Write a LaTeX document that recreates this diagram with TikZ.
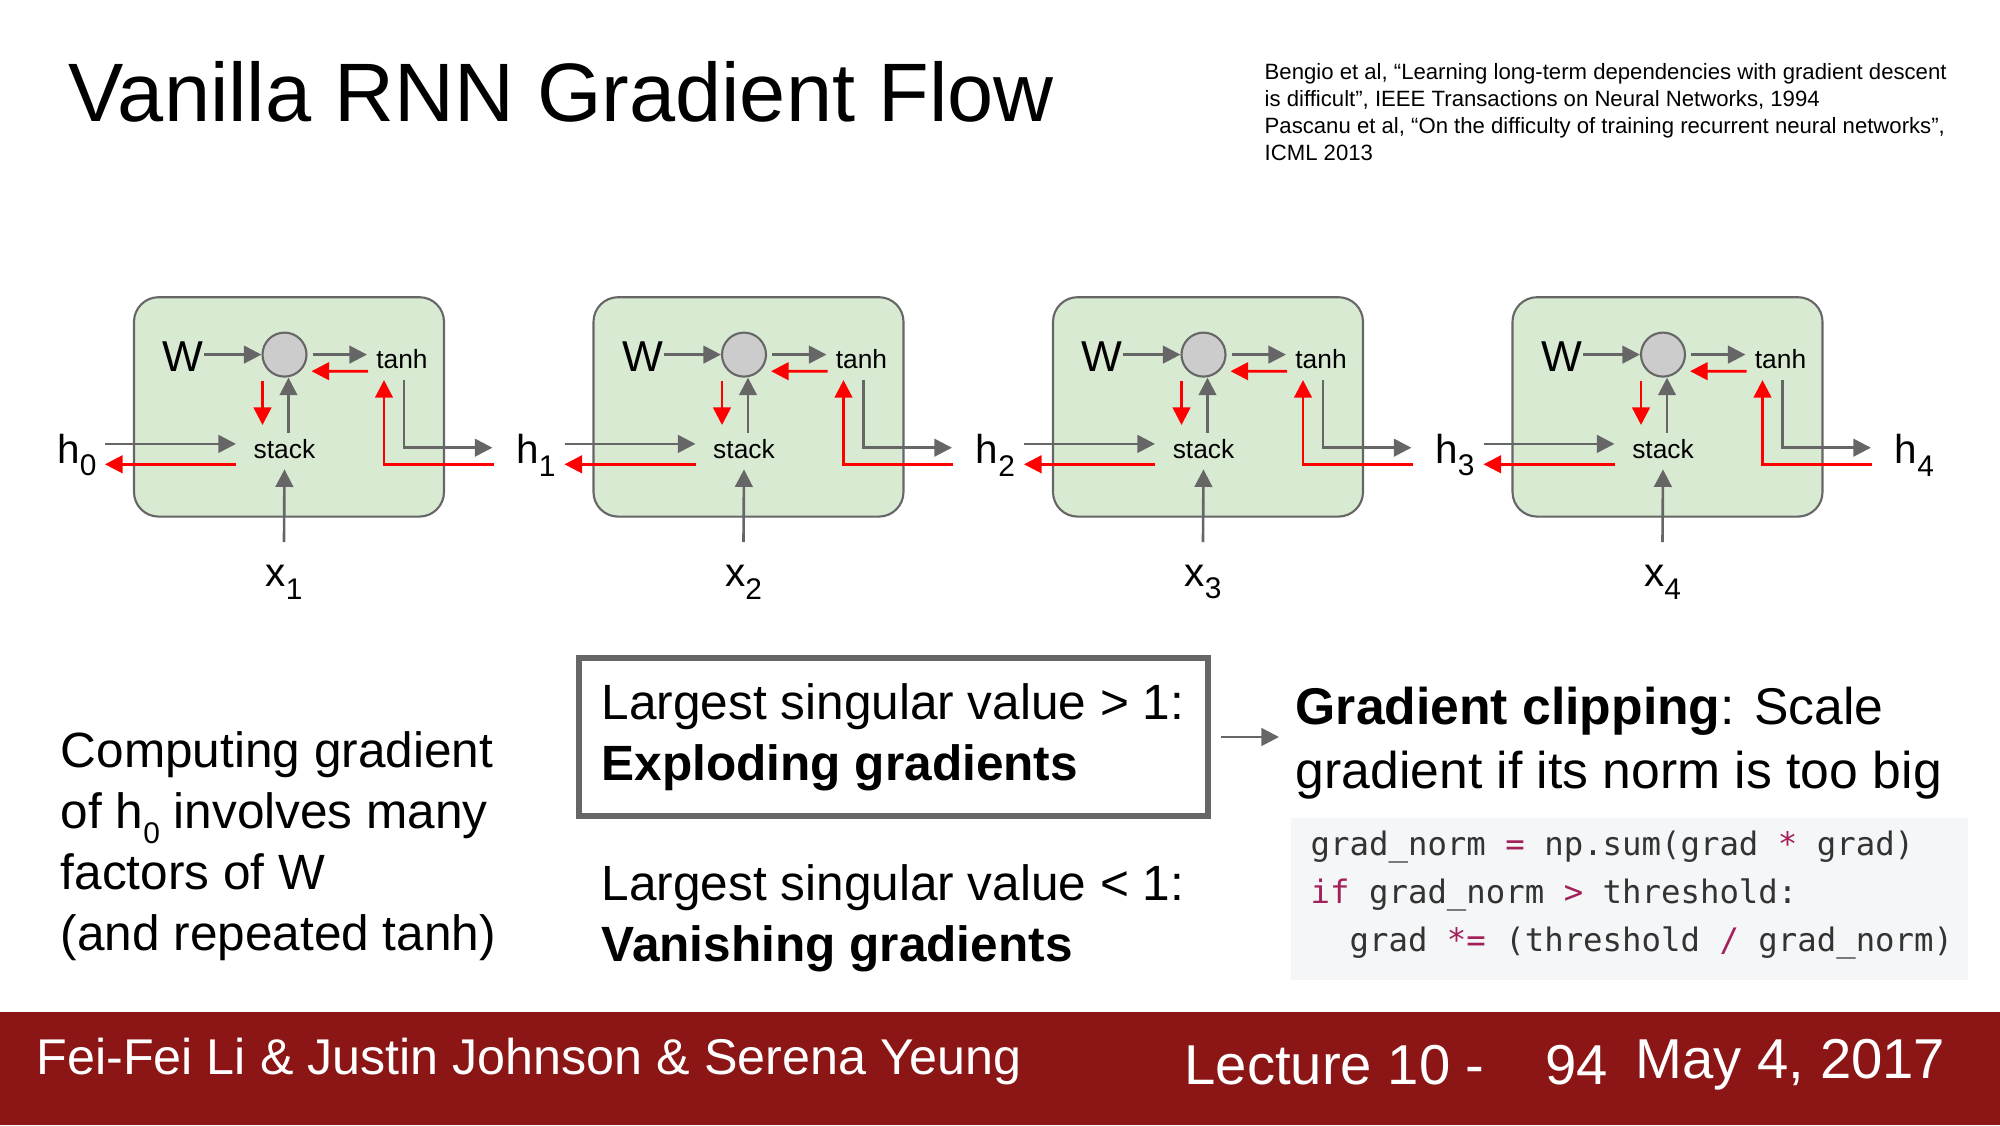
\documentclass[tikz,border=0pt]{standalone}
\usepackage{fontspec}
\setmainfont{Liberation Sans}
\setmonofont{DejaVu Sans Mono}
\usetikzlibrary{arrows.meta,calc}
\definecolor{boxgreen}{HTML}{D9EAD3}
\definecolor{arrowgray}{HTML}{666666}
\definecolor{footred}{HTML}{8C1515}
\definecolor{codebg}{HTML}{F5F6F8}
\definecolor{codefg}{HTML}{333333}
\definecolor{kw}{HTML}{A3215A}
\newcommand{\sub}[1]{\raisebox{-0.6ex}{\fontsize{8.5}{8}\selectfont #1}}
\tikzset{
  garrow/.style={draw=arrowgray, line width=0.75pt, -{Triangle[length=5pt,width=5pt]}},
  rarrow/.style={draw=red, line width=0.75pt, -{Triangle[length=5pt,width=5pt]}},
  cellbox/.style={draw=arrowgray, fill=boxgreen, rounded corners=7pt, line width=0.6pt},
  small/.style={font=\fontsize{7.5}{9}\selectfont, inner sep=0pt},
  big/.style={font=\fontsize{14.1}{17.4}\selectfont, inner sep=0pt, align=left, anchor=west},
  foot/.style={anchor=west, inner sep=0pt, text=white, font=\fontsize{16}{20}\selectfont}
}
\begin{document}
\begin{tikzpicture}
\useasboundingbox (0,0) rectangle (20,11.25);

% title and references
\node[anchor=west, inner sep=0pt, font=\fontsize{23.6}{28}\selectfont] (title) at (0.68,10.33) {Vanilla RNN Gradient Flow};
\node[anchor=north west, inner sep=0pt, align=left, font=\fontsize{6.3}{7.7}\selectfont] (refs) at (12.64,10.62)
  {Bengio et al, “Learning long-term dependencies with gradient descent\\
   is difficult”, IEEE Transactions on Neural Networks, 1994\\
   Pascanu et al, “On the difficulty of training recurrent neural networks”,\\
   ICML 2013};

% unrolled cells
\node[inner sep=0pt, font=\fontsize{11.5}{12}\selectfont] (h0) at (0.77,6.70) {h\sub{0}};
\foreach \i [evaluate=\i as \xo using 1.34+4.595*(\i-1)] in {1,...,4}{
  \begin{scope}[xshift=\xo cm]
    \draw[cellbox] (0,6.084) rectangle (3.10,8.278);
    \node[circle, draw=arrowgray, fill=gray!40, line width=0.6pt, minimum size=0.44cm, inner sep=0pt] (c\i) at (1.505,7.704) {};
    \node[inner sep=0pt, font=\fontsize{12.3}{13}\selectfont] (W\i) at (0.49,7.68) {W};
    \node[small] (t\i) at (2.68,7.66) {tanh};
    \node[small] (s\i) at (1.505,6.76) {stack};
    \node[inner sep=0pt, font=\fontsize{11.5}{12}\selectfont] (x\i) at (1.50,5.43) {x\sub{\i}};
    \node[inner sep=0pt, font=\fontsize{11.5}{12}\selectfont] (h\i) at (4.02,6.70) {h\sub{\i}};
    \coordinate (hin\i) at (-0.29,6.811);
    \coordinate (hback\i) at (-0.29,6.607);
    \coordinate (hout\i) at (3.584,6.773);
    \coordinate (hred\i) at (3.597,6.607);
    % forward
    \draw[garrow] (W\i.east |- c\i) -- (c\i.west);
    \draw[garrow] ($(c\i.east)+(0.05,0)$) -- (2.33,7.704);
    \draw[garrow] ($(s\i.north)+(0.04,0.06)$) -- ($(c\i.south)+(0.04,0)$);
    \draw[garrow] ($(x\i.north)+(0,0.22)$) -- ($(s\i.south)+(0,-0.1)$);
    \draw[garrow] (hin\i) -- (1.02,6.811);
    \draw[garrow] (2.70,7.449) -- (2.70,6.773) -- (hout\i);
    % backward
    \draw[rarrow] (2.34,7.538) -- ($(c\i.east)+(0.04,-0.166)$);
    \draw[rarrow] ($(c\i.south)+(-0.22,-0.03)$) -- (1.285,7.0);
    \draw[rarrow] (1.02,6.607) -- (hback\i);
    \draw[rarrow] (hred\i) -- (2.50,6.607) -- (2.50,7.449);
  \end{scope}
}

% explanation text
\node[big] (why) at (0.60,2.79) {Computing gradient\\ of h\sub{0} involves many\\ factors of W\\ (and repeated tanh)};
\draw[draw=arrowgray, line width=1.8pt] (5.79,3.09) rectangle (12.08,4.67);
\node[big] (expl) at (6.01,3.88) {Largest singular value > 1:\\ \textbf{Exploding gradients}};
\node[big] (vani) at (6.01,2.07) {Largest singular value < 1:\\ \textbf{Vanishing gradients}};
\node[big, font=\fontsize{14.7}{18.1}\selectfont] (clip) at (12.95,3.82) {\textbf{Gradient clipping}: Scale\\ gradient if its norm is too big};
\coordinate (cliparrow) at (12.79,3.88);
\draw[garrow] (12.21,3.88) -- (cliparrow);

% code
\fill[codebg] (12.91,1.45) rectangle (19.68,3.07);
\node[anchor=west, inner sep=0pt, align=left, text=codefg, font=\ttfamily\fontsize{9.2}{13.6}\selectfont] (code) at (13.10,2.30)
  {grad\_norm \textcolor{kw}{=} np.sum(grad \textcolor{kw}{*} grad)\\
   \textcolor{kw}{if} grad\_norm \textcolor{kw}{>} threshold:\\
   \ \ grad \textcolor{kw}{*=} (threshold \textcolor{kw}{/} grad\_norm)};

% footer
\fill[footred] (0,0) rectangle (20,1.135);
\node[foot, font=\fontsize{14.3}{18}\selectfont] (auth) at (0.36,0.64) {Fei-Fei Li \& Justin Johnson \& Serena Yeung};
\node[foot] (lec) at (11.84,0.60) {Lecture 10 -};
\node[foot] (page) at (15.45,0.60) {94};
\node[foot] (date) at (16.35,0.60) {May 4, 2017};
\end{tikzpicture}
\end{document}
